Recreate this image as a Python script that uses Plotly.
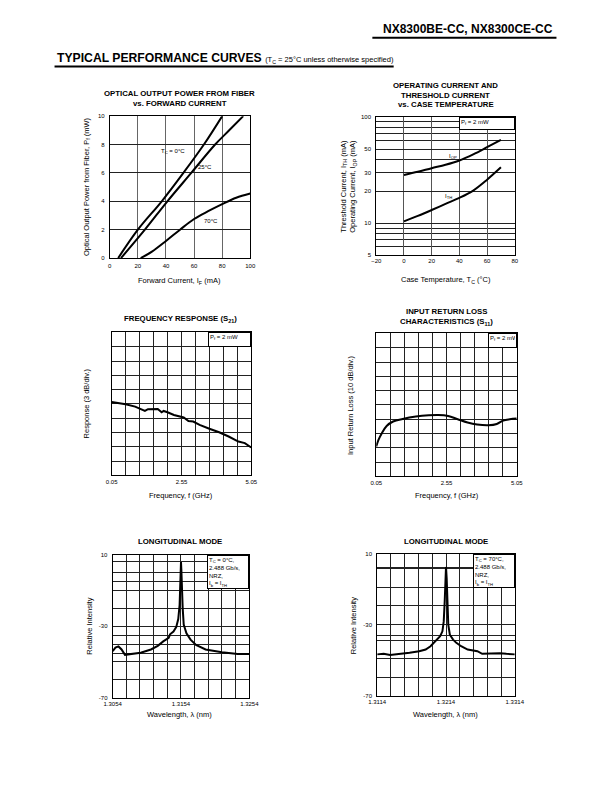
import plotly.graph_objects as go

W, H = 612, 792
FONT = "Liberation Sans"

# ---------------- DATA ----------------
# Panel 1: optical output power vs forward current
p1_i_0c = [6, 20, 37, 52.4, 67, 80]
p1_p_0c = [0, 2, 4, 6, 8, 10]
p1_i_25c = [8, 25, 41, 58, 75, 85, 95]
p1_p_25c = [0, 2, 4, 6, 8, 9, 10]
p1_i_70c = [22, 30, 40, 50, 60, 70, 80, 90, 100]
p1_p_70c = [0, 0.45, 1.2, 2.0, 2.75, 3.3, 3.8, 4.25, 4.55]
p1_xticks = [0, 20, 40, 60, 80, 100]
p1_yticks = [0, 2, 4, 6, 8, 10]

# Panel 2: operating / threshold current vs case temperature
p2_temp = [0, 10, 20, 30, 40, 50, 60, 70]
p2_iop = [28.5, 30.5, 33, 35.5, 39, 44.5, 52, 61]
p2_ith = [10.4, 11.7, 13.3, 15.2, 17.3, 20.3, 25.7, 33.6]
p2_xticks = [-20, 0, 20, 40, 60, 80]
p2_yticks = [5, 10, 20, 30, 50, 100]
p2_ygrid_minor = [6, 7, 8, 9, 40, 60, 70, 80, 90]

# Panel 3: frequency response S21 (3 dB/div)
p3_freq = [0.05, 0.55, 0.89, 1.12, 1.24, 1.35, 1.50, 1.70, 1.84, 1.91, 2.05, 2.28,
           2.63, 2.80, 2.97, 3.20, 3.55, 3.90, 4.24, 4.59, 4.82, 5.05]
p3_resp = [0.42, -0.06, -0.57, -1.26, -1.47, -1.11, -1.14, -1.05, -1.74, -1.47, -1.74, -2.31,
           -2.85, -3.57, -3.69, -4.41, -5.22, -5.94, -6.84, -7.89, -8.22, -9.15]

# Panel 4: input return loss S11 (10 dB/div)
p4_freq = [0.05, 0.13, 0.25, 0.42, 0.65, 0.99, 1.46, 1.92, 2.26, 2.61, 2.95, 3.30,
           3.64, 4.05, 4.34, 4.57, 4.80, 5.05]
p4_loss = [-29.1, -24.4, -19.8, -14.7, -11.6, -9.8, -8.1, -7.2, -7.0, -7.7, -10.0, -12.3,
           -13.7, -14.2, -13.3, -10.9, -10.0, -9.5]

freq_ticks = [0.05, 2.55, 5.05]
freq_grid_minor = [0.55, 1.05, 1.55, 2.05, 3.05, 3.55, 4.05, 4.55]

# Panel 5: longitudinal mode, Tc = 0 C
p5_wl = [1.3054, 1.3058, 1.30625, 1.3067, 1.3072, 1.3080, 1.3095, 1.3110, 1.3120, 1.3128,
         1.3133, 1.3136, 1.3138, 1.3143, 1.3147, 1.3150, 1.3152, 1.31525, 1.3153, 1.3154,
         1.31545, 1.3155, 1.31565, 1.3158, 1.3162, 1.3168, 1.3176, 1.3190, 1.3214, 1.3237, 1.3254]
p5_db = [-44, -42, -41.3, -43, -46, -45.5, -44.8, -43, -41, -38.5,
         -37.5, -36.5, -34.5, -33, -30.5, -26, -18, -8, 3, 6,
         2, -8, -20, -29, -34, -37.5, -40.5, -43, -44.6, -45.5, -45.5]
p5_xticks = [1.3054, 1.3154, 1.3254]
p5_xgrid_minor = [1.3074, 1.3094, 1.3114, 1.3134, 1.3174, 1.3194, 1.3214, 1.3234]
p5_ygrid_minor = [6, 0, -5, -10, -20, -35, -40, -45, -50, -60]

# Panel 6: longitudinal mode, Tc = 70 C
p6_wl = [1.3114, 1.31234, 1.31328, 1.31422, 1.31516, 1.3161, 1.3175, 1.31844, 1.31915, 1.31962,
         1.32009, 1.32055, 1.32088, 1.32107, 1.32121, 1.32131, 1.3214, 1.3215, 1.32159, 1.32173,
         1.32196, 1.32243, 1.3229, 1.3236, 1.32455, 1.32596, 1.32666, 1.32784, 1.32924, 1.33018, 1.3314]
p6_db = [-46.7, -46.4, -47.1, -46.7, -46.4, -45.8, -44.9, -44.0, -42.1, -40.2,
         -38.0, -36.5, -33.7, -28.1, -17.0, -5.8, 2.6, -4.0, -18.8, -30.0,
         -35.6, -38.4, -40.2, -42.1, -44.0, -44.9, -46.4, -46.2, -46.0, -46.4, -46.7]
p6_xticks = [1.3114, 1.3214, 1.3314]
p6_xgrid_minor = [1.3134, 1.3154, 1.3174, 1.3194, 1.3234, 1.3254, 1.3274, 1.3294]
p6_ygrid_minor = [2.5, 1.5, -9, -19, -36, -39, -49, -60]
mode_yticks = [10, -30, -70]

# ---------------- LAYOUT HELPERS ----------------
def px_x(p):
    return p / W

def px_y(p):
    return 1 - p / H

fig = go.Figure()
line = dict(color="black", width=2)

def add(x, y, n, shape="spline"):
    fig.add_trace(go.Scatter(x=x, y=y, mode="lines", line=dict(line, shape=shape),
                             xaxis=f"x{n}", yaxis=f"y{n}", showlegend=False,
                             hoverinfo="skip"))

add(p1_i_0c, p1_p_0c, 1)
add(p1_i_25c, p1_p_25c, 1)
add(p1_i_70c, p1_p_70c, 1)
add(p2_temp, p2_iop, 2)
add(p2_temp, p2_ith, 2)
add(p3_freq, p3_resp, 3, "linear")
add(p4_freq, p4_loss, 4)
add(p5_wl, p5_db, 5, "linear")
add(p6_wl, p6_db, 6, "linear")

GRID = "#222"
tickfont = dict(family=FONT, size=6, color="black")
axis_common = dict(showline=True, mirror=True, linecolor="black", linewidth=1,
                   gridcolor=GRID, gridwidth=1, zeroline=False, ticks="",
                   tickfont=tickfont, fixedrange=True)

def minor(vals, color=GRID):
    return dict(tickvals=vals, showgrid=True, gridcolor=color, gridwidth=1, ticks="")

# domains in pixels: (x0, x1, ytop, ybottom)
doms = {
    1: (104, 249, 114, 257),
    2: (379, 522, 115, 254),
    3: (106, 250, 332, 476),
    4: (379, 524, 333, 477),
    5: (107, 248, 556, 700),
    6: (380, 522, 555, 698),
}

def set_axes(n, xa, ya):
    x0, x1, yt, yb = doms[n]
    xk = "xaxis" if n == 1 else f"xaxis{n}"
    yk = "yaxis" if n == 1 else f"yaxis{n}"
    fig.layout[xk] = dict(axis_common, domain=[px_x(x0), px_x(x1)], anchor=f"y{n}", **xa)
    fig.layout[yk] = dict(axis_common, domain=[px_y(yb), px_y(yt)], anchor=f"x{n}", **ya)

set_axes(1, dict(range=[0, 100], tickvals=p1_xticks, ticklabelstandoff=2, gridcolor="#666"),
         dict(range=[0, 10], tickvals=p1_yticks, ticklabelstandoff=3))
set_axes(2, dict(range=[-20, 80], tickvals=p2_xticks, gridcolor="#555"),
         dict(type="log", range=[0.69897, 2], tickvals=p2_yticks,
              ticktext=[str(v) for v in p2_yticks], minor=minor(p2_ygrid_minor),
              ticklabelstandoff=3))
set_axes(3, dict(range=[0.05, 5.05], tickvals=freq_ticks, ticktext=["0.05", "2.55", "5.05"],
                 minor=minor(freq_grid_minor)),
         dict(range=[-15, 15], dtick=3, showticklabels=False))
set_axes(4, dict(range=[0.05, 5.05], tickvals=freq_ticks, ticktext=["0.05", "2.55", "5.05"],
                 minor=minor(freq_grid_minor)),
         dict(range=[-50, 50], dtick=10, showticklabels=False))
set_axes(5, dict(range=[1.3054, 1.3254], tickvals=p5_xticks,
                 ticktext=[f"{v:.4f}" for v in p5_xticks], minor=minor(p5_xgrid_minor)),
         dict(range=[-70, 10], tickvals=mode_yticks, ticktext=[str(v) for v in mode_yticks],
              minor=minor(p5_ygrid_minor), ticklabelstandoff=3))
set_axes(6, dict(range=[1.3114, 1.3314], tickvals=p6_xticks,
                 ticktext=[f"{v:.4f}" for v in p6_xticks], minor=minor(p6_xgrid_minor)),
         dict(range=[-70, 10], tickvals=mode_yticks, ticktext=[str(v) for v in mode_yticks],
              minor=minor(p6_ygrid_minor), ticklabelstandoff=3))

ann = []

def text(x, y, s, size=7.5, bold=False, xanchor="center", yanchor="middle", angle=0):
    if bold:
        s = "<b>" + s + "</b>"
    ann.append(dict(x=px_x(x), y=px_y(y), xref="paper", yref="paper", text=s,
                    showarrow=False, xanchor=xanchor, yanchor=yanchor, textangle=angle,
                    font=dict(family=FONT, size=size, color="black")))

# header
text(564, 26, "NX8300BE-CC, NX8300CE-CC", size=12, bold=True, xanchor="right")
text(47, 55, "<b>TYPICAL PERFORMANCE CURVES</b> <span style='font-size:7.5px'>(T<sub>C</sub> = 25°C unless otherwise specified)</span>",
     size=12.2, xanchor="left")

# panel titles
TS = 7.8
text(176, 91, "OPTICAL OUTPUT POWER FROM FIBER", TS, True)
text(176, 101, "vs. FORWARD CURRENT", TS, True)
text(451, 83, "OPERATING CURRENT AND", TS, True)
text(451, 93, "THRESHOLD CURRENT", TS, True)
text(451, 102, "vs. CASE TEMPERATURE", TS, True)
text(177, 318, "FREQUENCY RESPONSE (S<sub>21</sub>)", TS, True)
text(452, 311, "INPUT RETURN LOSS", TS, True)
text(452, 321, "CHARACTERISTICS (S<sub>11</sub>)", TS, True)
text(176, 543, "LONGITUDINAL MODE", TS, True)
text(451, 543, "LONGITUDINAL MODE", TS, True)

# axis titles
AS = 7.5
text(176, 280, "Forward Current, I<sub>F</sub> (mA)", AS)
text(451, 279, "Case Temperature, T<sub>C</sub> (°C)", AS)
text(177, 496, "Frequency, f (GHz)", AS)
text(452, 496, "Frequency, f (GHz)", AS)
text(176, 717, "Wavelength, λ (nm)", AS)
text(451, 717, "Wavelength, λ (nm)", AS)
text(80, 185, "Optical Output Power from Fiber, P<sub>f</sub> (mW)", AS, angle=-90)
text(350, 185, "Threshold Current, I<sub>TH</sub> (mA)<br>Operating Current, I<sub>OP</sub> (mA)", AS, angle=-90)
text(80, 404, "Response (3 dB/div.)", AS, angle=-90)
text(353, 405, "Input Return Loss (10 dB/div.)", AS, angle=-90)
text(83, 628, "Relative Intensity", AS, angle=-90)
text(355, 627, "Relative Intensity", AS, angle=-90)

def dtext(n, x, y, s, size=6, **kw):
    d = dict(x=x, y=y, xref=f"x{n}", yref=f"y{n}", text=s, showarrow=False,
             font=dict(family=FONT, size=size, color="black"))
    d.update(kw)
    ann.append(d)

dtext(1, 45, 7.5, "T<sub>C</sub> = 0°C")
dtext(1, 68, 6.4, "25°C")
dtext(1, 72, 2.6, "70°C")
dtext(2, 35.5, 1.633, "I<sub>OP</sub>")
dtext(2, 32.5, 1.255, "I<sub>TH</sub>")

def boxed(n, s, w, h):
    ann.append(dict(x=1, y=1, xref=f"x{n} domain", yref=f"y{n} domain", text=s,
                    showarrow=False, xanchor="right", yanchor="top", align="left",
                    valign="top", width=w, height=h, bgcolor="white",
                    bordercolor="black", borderwidth=1, borderpad=1,
                    font=dict(family=FONT, size=6, color="black")))

boxed(2, "P<sub>f</sub> = 2 mW", 52, 9)
boxed(3, "P<sub>f</sub> = 2 mW", 39, 11)
boxed(4, "P<sub>f</sub> = 2 mW", 25, 11)
boxed(5, "T<sub>C</sub> = 0°C,<br>2.488 Gb/s,<br>NRZ,<br>I<sub>b</sub> = I<sub>TH</sub>", 38, 30)
boxed(6, "T<sub>C</sub> = 70°C,<br>2.488 Gb/s,<br>NRZ,<br>I<sub>b</sub> = I<sub>TH</sub>", 38, 30)

shapes = [
    dict(type="line", xref="paper", yref="paper", x0=px_x(375), x1=px_x(565),
         y0=px_y(35), y1=px_y(35), line=dict(color="black", width=2)),
    dict(type="line", xref="paper", yref="paper", x0=px_x(47), x1=px_x(397),
         y0=px_y(64), y1=px_y(64), line=dict(color="black", width=2)),
]

fig.update_layout(width=W, height=H, margin=dict(l=0, r=0, t=0, b=0),
                  paper_bgcolor="white", plot_bgcolor="white",
                  annotations=ann, shapes=shapes, showlegend=False,
                  font=dict(family=FONT, color="black"))

fig.write_html("out.html", config={"displayModeBar": False},
               post_script="document.body.style.margin='0';document.body.style.overflow='hidden';")
